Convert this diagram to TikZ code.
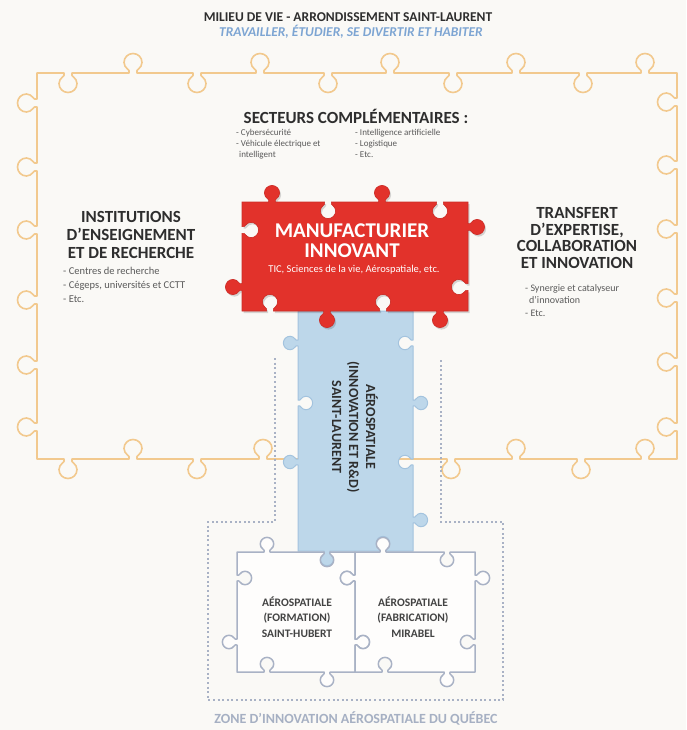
\documentclass[tikz,border=0pt]{standalone}
\usepackage{fontspec}
\setmainfont{Carlito}
\usepackage{etoolbox}
\definecolor{bg}{HTML}{FAF9F6}
\definecolor{orng}{HTML}{F2C98E}
\definecolor{redp}{HTML}{E2322B}
\definecolor{bluep}{HTML}{BDD7EA}
\definecolor{bluel}{HTML}{A3C3DE}
\definecolor{greyl}{HTML}{A9B2C5}
\definecolor{txt}{HTML}{2E2E2E}
\definecolor{txtl}{HTML}{5A5A5A}
\definecolor{subt}{HTML}{7DA5D3}
\definecolor{zone}{HTML}{A6B0C3}
% path accumulator
\newcommand\rs{\def\pathacc{}}
\newcommand\cor[2]{\appto\pathacc{-- (#1,#2)}}
\newcommand\kn[6]{\appto\pathacc{%
 -- ({#1-4*(#3)},{#2-4*(#4)})
 .. controls ({#1-2*(#3)+4*(#5)},{#2-2*(#4)+4*(#6)}) and ({#1-9*(#3)+4*(#5)},{#2-9*(#4)+4*(#6)}) .. ({#1-9*(#3)+10.5*(#5)},{#2-9*(#4)+10.5*(#6)})
 .. controls ({#1-9*(#3)+15.5*(#5)},{#2-9*(#4)+15.5*(#6)}) and ({#1-5*(#3)+19.5*(#5)},{#2-5*(#4)+19.5*(#6)}) .. ({#1+19.5*(#5)},{#2+19.5*(#6)})
 .. controls ({#1+5*(#3)+19.5*(#5)},{#2+5*(#4)+19.5*(#6)}) and ({#1+9*(#3)+15.5*(#5)},{#2+9*(#4)+15.5*(#6)}) .. ({#1+9*(#3)+10.5*(#5)},{#2+9*(#4)+10.5*(#6)})
 .. controls ({#1+9*(#3)+4*(#5)},{#2+9*(#4)+4*(#6)}) and ({#1+2*(#3)+4*(#5)},{#2+2*(#4)+4*(#6)}) .. ({#1+4*(#3)},{#2+4*(#4)})}}
\newcommand\hk[4]{\kn{#1}{#2}{#3}{0}{0}{#4}}
\newcommand\vk[4]{\kn{#1}{#2}{0}{#3}{#4}{0}}
\tikzset{
 orangeline/.style={draw=orng, line width=1.6pt, line join=round},
 redpiece/.style={fill=redp, draw=redp!90!black, line width=0.6pt},
 bluepiece/.style={fill=bluep, draw=bluel, line width=1pt},
 greypiece/.style={fill=white!70!bg, draw=greyl, line width=1.5pt, line join=round},
 dashline/.style={draw=greyl, line width=1.2pt, dash pattern=on 2pt off 2.6pt},
 head/.style={text=txt, align=center, font=\fontsize{17}{18}\selectfont\bfseries},
 bullets/.style={text=txtl, align=left, anchor=north west, inner sep=0pt}
}
\begin{document}
\begin{tikzpicture}[x=1pt,y=-1pt]
\useasboundingbox (0,0) rectangle (686,730);
\fill[bg] (0,0) rectangle (686,730);

% orange border
\rs
\hk{68}{73}{1}{1}\hk{133}{73}{1}{-1}\hk{197}{73}{1}{1}\hk{260}{73}{1}{-1}\hk{328}{73}{1}{1}
\hk{390}{73}{1}{-1}\hk{453}{73}{1}{1}\hk{516}{73}{1}{-1}\hk{583}{73}{1}{1}\hk{645}{73}{1}{-1}
\cor{677}{73}
\vk{677}{102}{1}{-1}\vk{677}{165}{1}{-1}\vk{677}{229}{1}{-1}\vk{677}{298}{1}{-1}\vk{677}{362}{1}{-1}\vk{677}{427}{1}{-1}
\cor{677}{459}
\hk{645}{459}{-1}{-1}\hk{581}{459}{-1}{1}\hk{516}{459}{-1}{-1}\hk{451}{459}{-1}{1}
\hk{263}{459}{-1}{-1}\hk{197}{459}{-1}{1}\hk{133}{459}{-1}{-1}\hk{68}{459}{-1}{1}
\cor{37}{459}
\vk{37}{427}{-1}{-1}\vk{37}{365}{-1}{-1}\vk{37}{300}{-1}{-1}\vk{37}{230}{-1}{-1}\vk{37}{167}{-1}{-1}\vk{37}{103}{-1}{-1}
\draw[orangeline] (37,73) \pathacc -- cycle;

% dashed zone outline
\draw[dashline] (275,358) -- (275,522) -- (208,522) -- (208,700) -- (503,700) -- (503,522) -- (441,522) -- (441,358);

% blue piece
\rs
\cor{413}{311}
\vk{413}{343}{0.75}{-0.75}\vk{413}{403}{0.75}{0.75}\vk{413}{462}{0.75}{-0.75}\vk{413}{520}{0.75}{0.75}
\cor{413}{551}
\hk{383}{551}{-0.75}{-0.75}\hk{327}{551}{-0.75}{0.75}
\cor{298}{551}
\vk{298}{462}{-0.75}{-0.75}\vk{298}{403}{-0.75}{0.75}\vk{298}{343}{-0.75}{-0.75}
\path[bluepiece] (298,311) \pathacc -- cycle;

% red piece
\rs
\hk{272}{202}{0.85}{-0.85}\hk{328}{202}{0.85}{0.85}\hk{382}{202}{0.85}{-0.85}\hk{440}{202}{0.85}{0.85}
\cor{468}{202}
\vk{468}{227}{0.85}{0.85}\vk{468}{287}{0.85}{-0.85}
\cor{468}{311}
\hk{440}{311}{-0.85}{0.85}\hk{383}{311}{-0.85}{-0.85}\hk{327}{311}{-0.85}{0.85}\hk{270}{311}{-0.85}{-0.85}
\cor{242}{311}
\vk{242}{287}{-0.85}{-0.85}\vk{242}{230}{-0.85}{0.85}
\fill[black, opacity=0.15, shift={(1.5,2)}] (242,202) \pathacc -- cycle;
\path[redpiece] (242,202) \pathacc -- cycle;

% lower left piece
\rs
\hk{267}{552}{0.75}{-0.75}\hk{327}{552}{0.75}{0.75}\cor{355}{552}
\vk{355}{578}{0.75}{-0.75}\vk{355}{642}{0.75}{0.75}\cor{355}{672}
\hk{327}{672}{-0.75}{0.75}\hk{267}{672}{-0.75}{-0.75}\cor{237}{672}
\vk{237}{642}{-0.75}{-0.75}\vk{237}{578}{-0.75}{0.75}
\path[greypiece] (237,552) \pathacc -- cycle;

% lower right piece
\rs
\hk{383}{552}{0.75}{-0.75}\hk{447}{552}{0.75}{0.75}\cor{475}{552}
\vk{475}{578}{0.75}{0.75}\vk{475}{642}{0.75}{-0.75}\cor{475}{672}
\hk{447}{672}{-0.75}{0.75}\hk{385}{672}{-0.75}{-0.75}\cor{355}{672}
\vk{355}{642}{-0.75}{0.75}\vk{355}{578}{-0.75}{-0.75}
\path[greypiece] (355,552) \pathacc -- cycle;

% texts
\node[text=txt, font=\fontsize{13.5}{15}\selectfont\bfseries] (title) at (348,17) {MILIEU DE VIE - ARRONDISSEMENT SAINT-LAURENT};
\node[text=subt, font=\fontsize{13.5}{15}\selectfont\bfseries\itshape] (subtitle) at (351,32) {TRAVAILLER, ÉTUDIER, SE DIVERTIR ET HABITER};

\node[head] (sect) at (356,116) {SECTEURS COMPLÉMENTAIRES :};
\node[bullets, font=\fontsize{9}{11}\selectfont] (sectl) at (236,129) {- Cybersécurité\\- Véhicule électrique et\\\hspace*{3pt}intelligent};
\node[bullets, font=\fontsize{9}{11}\selectfont] (sectr) at (355,129) {- Intelligence artificielle\\- Logistique\\- Etc.};

\node[head] (inst) at (131,235) {INSTITUTIONS\\D’ENSEIGNEMENT\\ET DE RECHERCHE};
\node[bullets, font=\fontsize{10.5}{14}\selectfont] (instl) at (63,267) {- Centres de recherche\\- Cégeps, universités et CCTT\\- Etc.};

\node[head, font=\fontsize{17}{16.5}\selectfont\bfseries] (trans) at (577,238) {TRANSFERT\\D’EXPERTISE,\\COLLABORATION\\ET INNOVATION};
\node[bullets, font=\fontsize{10}{12.5}\selectfont] (transl) at (525,284) {- Synergie et catalyseur\\\hspace*{4pt}d’innovation\\- Etc.};

\node[text=white, align=center, font=\fontsize{21}{20}\selectfont\bfseries] (manu) at (352,241) {MANUFACTURIER\\INNOVANT};
\node[text=white, font=\fontsize{10.5}{12}\selectfont] (manul) at (354,270) {TIC, Sciences de la vie, Aérospatiale, etc.};

\node[text=txt, align=center, rotate=-90, font=\fontsize{14}{17}\selectfont\bfseries] (aero) at (355,427) {AÉROSPATIALE\\(INNOVATION ET R\&D)\\SAINT-LAURENT};

\node[text=txt!90!white, align=center, font=\fontsize{11.5}{15.5}\selectfont\bfseries] (sth) at (297,617) {AÉROSPATIALE\\(FORMATION)\\SAINT-HUBERT};
\node[text=txt!90!white, align=center, font=\fontsize{11.5}{15.5}\selectfont\bfseries] (mir) at (413,617) {AÉROSPATIALE\\(FABRICATION)\\MIRABEL};

\node[text=zone, font=\fontsize{14}{15}\selectfont\bfseries] (zonet) at (356,718) {ZONE D’INNOVATION AÉROSPATIALE DU QUÉBEC};
\end{tikzpicture}
\end{document}
